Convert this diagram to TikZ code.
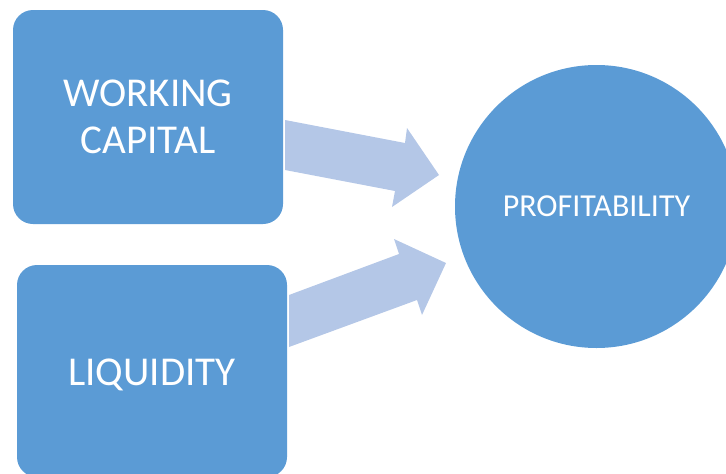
\documentclass[tikz,border=0pt]{standalone}
\usepackage{fontspec}
\setmainfont{Carlito}
\definecolor{boxblue}{HTML}{5B9BD5}
\definecolor{arrowblue}{HTML}{B4C7E7}
\begin{document}
\begin{tikzpicture}[x=1pt,y=-1pt,
  block/.style={fill=boxblue, draw=none, rounded corners=20pt, text=white, align=center,
    minimum width=270pt, inner sep=0pt, font=\fontsize{41}{46.5}\selectfont},
  roundnode/.style={circle, fill=boxblue, draw=none, text=white, minimum size=283pt, inner sep=0pt,
    font=\fontsize{32}{38}\selectfont},
  blockarrow/.style={fill=arrowblue, draw=none}]
\useasboundingbox (0,0) rectangle (726,474);
\clip (0,0) rectangle (726,474);
\node[block, minimum height=214pt] (wc) at (148,117) {WORKING\\CAPITAL};
\node[block, minimum height=212pt] (liq) at (152,371) {\raisebox{-4pt}[\height][\depth]{LIQUIDITY}};
\node[roundnode] (prof) at (596.5,206.5) {PROFITABILITY};
\fill[blockarrow] (285,120) -- (405,143) -- (407,128) -- (439,175) -- (392,207) -- (395,191) -- (285,170) -- cycle;
\fill[blockarrow] (289,295) -- (399,254) -- (394,239) -- (446,263) -- (422,315) -- (417,300) -- (289,347) -- cycle;
\end{tikzpicture}
\end{document}
